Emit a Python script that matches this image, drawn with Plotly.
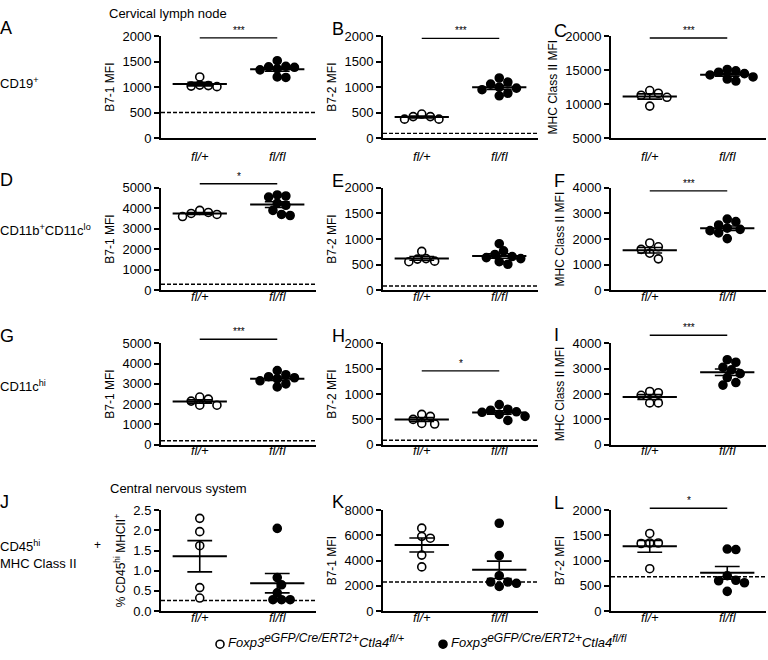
import numpy as np
import plotly.graph_objects as go

# ---------------- data ----------------
groups = ["fl/+", "fl/fl"]
panel_letters = ["A", "B", "C", "D", "E", "F", "G", "H", "I", "J", "K", "L"]

A_het = [1200, 1030, 1020, 1010, 1040]
A_hom = [1520, 1400, 1390, 1410, 1360, 1340, 1200, 1190]
B_het = [470, 420, 370, 370, 420]
B_hom = [1180, 1100, 1060, 1000, 980, 950, 880, 830]
C_het = [12000, 11600, 11300, 11000, 9700]
C_hom = [15100, 14900, 14700, 14500, 14300, 14000, 13700, 13400]
D_het = [3900, 3750, 3700, 3600, 3800]
D_hom = [4650, 4600, 4550, 4250, 4150, 3900, 3700, 3650]
E_het = [760, 620, 610, 570, 560]
E_hom = [910, 770, 700, 660, 640, 620, 560, 510]
F_het = [1850, 1700, 1600, 1450, 1230]
F_hom = [2780, 2680, 2550, 2430, 2380, 2330, 2240, 2020]
G_het = [2350, 2250, 2150, 1950, 1950]
G_hom = [3650, 3450, 3350, 3300, 3250, 3150, 3000, 2850]
H_het = [600, 560, 500, 420, 410]
H_hom = [790, 700, 680, 650, 640, 600, 560, 480]
I_het = [2100, 2050, 1950, 1650, 1650]
I_hom = [3350, 3250, 3050, 2950, 2800, 2650, 2450, 2350]
J_het = [2.30, 1.97, 1.62, 0.58, 0.32]
J_hom = [2.05, 0.83, 0.65, 0.45, 0.28, 0.28, 0.28]
K_het = [6580, 5930, 5780, 4440, 3500]
K_hom = [6970, 4400, 2800, 2300, 2300, 2200, 1950]
L_het = [1540, 1350, 1340, 1350, 840]
L_hom = [1230, 1220, 700, 610, 600, 560, 390]

het_values = [A_het, B_het, C_het, D_het, E_het, F_het, G_het, H_het, I_het, J_het, K_het, L_het]
hom_values = [A_hom, B_hom, C_hom, D_hom, E_hom, F_hom, G_hom, H_hom, I_hom, J_hom, K_hom, L_hom]

# isotype / background level (dashed line)
baseline = [500, 90, None, 300, 85, None, 200, 90, None, 0.26, 2300, 680]
# significance
sig_text = ["***", "***", "***", "*", None, "***", "***", "*", "***", None, None, "*"]
sig_level = [1970, 1960, 19750, 5200, None, 3880, 5190, 1456, 4310, None, None, 2040]

y_titles = ["B7-1 MFI", "B7-2 MFI", "MHC Class II MFI",
            "B7-1 MFI", "B7-2 MFI", "MHC Class II MFI",
            "B7-1 MFI", "B7-2 MFI", "MHC Class II MFI",
            "% CD45<sup>hi</sup> MHCII<sup>+</sup>", "B7-1 MFI", "B7-2 MFI"]
y_min = [0, 0, 5000, 0, 0, 0, 0, 0, 0, 0, 0, 0]
y_max = [2000, 2000, 20000, 5000, 2000, 4000, 5000, 2000, 4000, 2.5, 8000, 2000]
y_dtick = [500, 500, 5000, 1000, 500, 1000, 1000, 500, 1000, 0.5, 2000, 500]

row_labels = ["CD19<sup>+</sup>", "CD11b<sup>+</sup>CD11c<sup>lo</sup>", "CD11c<sup>hi</sup>",
              "CD45<sup>hi</sup><br>MHC Class II"]
section_titles = ["Cervical lymph node", "Central nervous system"]
legend_het = ("<i>Foxp3<sup><span style='font-size:12px'>eGFP/Cre/ERT2+</span></sup>"
              "Ctla4<sup><span style='font-size:11px'>fl/+</span></sup></i>")
legend_hom = ("<i>Foxp3<sup><span style='font-size:12px'>eGFP/Cre/ERT2+</span></sup>"
              "Ctla4<sup><span style='font-size:11px'>fl/fl</span></sup></i>")

# ---------------- layout helpers ----------------
W, H = 768, 660
FONT = "Liberation Sans, Arial, sans-serif"
col_px = [(161, 316), (383, 538), (611, 766)]
row_px = [(30, 134), (185, 290), (344, 448), (515, 618)]
row_label_standoff = [5, -7, -7, -7]


def px(x):
    return x / W


def py(y):
    return 1 - y / H


def swarm(vals, unit_px, x_unit_px, d=8.6):
    placed = []
    order = np.argsort(-np.asarray(vals, dtype=float), kind="stable")
    res = [0.0] * len(vals)
    cands = [0.0]
    for k in range(1, 30):
        cands += [k * d / 2, -k * d / 2]
    for i in order:
        yv = vals[i] * unit_px
        for c in cands:
            if all((c - a) ** 2 + (yv - b) ** 2 >= (d * 0.93) ** 2 for a, b in placed):
                break
        placed.append((c, yv))
        res[i] = c / x_unit_px
    return res


fig = go.Figure()
layout = dict(width=W, height=H, margin=dict(l=0, r=0, t=0, b=0),
              paper_bgcolor="white", plot_bgcolor="white", showlegend=False,
              font=dict(family=FONT, size=13, color="black"))
annotations = []
shapes = []

for p in range(12):
    r, c = divmod(p, 3)
    n = p + 1
    xa = "x" if n == 1 else f"x{n}"
    ya = "y" if n == 1 else f"y{n}"
    x0p, x1p = col_px[c]
    y0p, y1p = row_px[r]
    layout["xaxis" if n == 1 else f"xaxis{n}"] = dict(
        domain=[px(x0p), px(x1p)], range=[-0.5, 1.5], anchor=ya,
        tickvals=[0, 1], ticktext=[f"<i>{g}</i>" for g in groups],
        showline=True, linewidth=2, linecolor="black", ticks="",
        showgrid=False, zeroline=False, ticklabelstandoff=row_label_standoff[r],
        tickfont=dict(size=13, family=FONT), fixedrange=True)
    layout["yaxis" if n == 1 else f"yaxis{n}"] = dict(
        domain=[py(y1p), py(y0p)], range=[y_min[p], y_max[p]], anchor=xa,
        tick0=y_min[p], dtick=y_dtick[p],
        tickformat=".1f" if y_max[p] < 10 else "d",
        showline=True, linewidth=2, linecolor="black", ticks="outside",
        ticklen=5, tickwidth=1.5, tickcolor="black",
        showgrid=False, zeroline=False,
        tickfont=dict(size=13, family=FONT),
        title=dict(text=y_titles[p], font=dict(size=12, family=FONT), standoff=5),
        fixedrange=True)

    unit_px = (y1p - y0p) / (y_max[p] - y_min[p])
    x_unit = (x1p - x0p) / 2.0

    def to_paper_y(v):
        return py(y1p - (v - y_min[p]) * unit_px)

    # baseline
    if baseline[p] is not None:
        fig.add_trace(go.Scatter(x=[-0.5, 1.5], y=[baseline[p]] * 2, mode="lines",
                                 line=dict(color="black", width=1.4, dash="4px,2px"),
                                 xaxis=xa, yaxis=ya, cliponaxis=False, hoverinfo="skip"))

    for gi, vals in enumerate([het_values[p], hom_values[p]]):
        offs = swarm(vals, unit_px, x_unit)
        xs = [gi + o for o in offs]
        filled = gi == 1
        fig.add_trace(go.Scatter(
            x=xs, y=vals, mode="markers", xaxis=xa, yaxis=ya, cliponaxis=False,
            marker=dict(size=8, symbol="circle",
                        color="black" if filled else "white",
                        line=dict(color="black", width=1.6))))
        arr = np.asarray(vals, dtype=float)
        m = arr.mean()
        sem = arr.std(ddof=1) / np.sqrt(len(arr))
        fig.add_trace(go.Scatter(x=[gi - 0.35, gi + 0.35], y=[m, m], mode="lines",
                                 line=dict(color="black", width=2), xaxis=xa, yaxis=ya,
                                 cliponaxis=False, hoverinfo="skip"))
        fig.add_trace(go.Scatter(
            x=[gi - 0.16, gi + 0.16, None, gi - 0.16, gi + 0.16, None, gi, gi],
            y=[m + sem, m + sem, None, m - sem, m - sem, None, m - sem, m + sem],
            mode="lines", line=dict(color="black", width=1.6), xaxis=xa, yaxis=ya,
            cliponaxis=False, hoverinfo="skip"))

    # significance bar (may sit above the axis range -> paper y)
    if sig_text[p] is not None:
        yp = to_paper_y(sig_level[p])
        shapes.append(dict(type="line", xref=xa, yref="paper", x0=0, x1=1, y0=yp, y1=yp,
                           line=dict(color="black", width=1.4)))
        annotations.append(dict(x=0.5, y=yp, xref=xa, yref="paper", text=sig_text[p],
                                showarrow=False, yanchor="bottom", yshift=0,
                                font=dict(size=10, family=FONT, color="black")))

# panel letters
letter_pos = [(-2, 22), (330, 23), (552, 25),
              (-2, 177), (330, 178), (552, 178),
              (-2, 337), (330, 337), (552, 336),
              (-2, 507), (330, 507), (552, 508)]
for L, (lx, ly) in zip(panel_letters, letter_pos):
    annotations.append(dict(x=px(lx), y=py(ly), xref="paper", yref="paper", text=L,
                            showarrow=False, xanchor="left", yanchor="middle",
                            font=dict(size=18, family=FONT)))

# row labels
row_label_pos = [(-2, 78), (-2, 228), (-2, 388), (-2, 560)]
for t, (lx, ly) in zip(row_labels, row_label_pos):
    annotations.append(dict(x=px(lx), y=py(ly), xref="paper", yref="paper", text=t,
                            showarrow=False, xanchor="left", yanchor="middle", align="left",
                            font=dict(size=13, family=FONT)))
annotations.append(dict(x=px(97), y=py(551), xref="paper", yref="paper", text="+",
                        showarrow=False, xanchor="center", yanchor="middle",
                        font=dict(size=12, family=FONT)))

# section titles
for t, (lx, ly) in zip(section_titles, [(107, 7), (108, 493)]):
    annotations.append(dict(x=px(lx), y=py(ly), xref="paper", yref="paper", text=t,
                            showarrow=False, xanchor="left", yanchor="middle",
                            font=dict(size=13, family=FONT)))

# bottom legend
for (cx, txt, fill) in [(220, legend_het, "white"), (443, legend_hom, "black")]:
    shapes.append(dict(type="circle", xref="paper", yref="paper",
                       xsizemode="pixel", ysizemode="pixel",
                       xanchor=px(cx), yanchor=py(652),
                       x0=-4, x1=4, y0=-4, y1=4,
                       line=dict(color="black", width=1.6), fillcolor=fill))
    annotations.append(dict(x=px(cx + 6), y=0, xref="paper", yref="paper", text=txt,
                            showarrow=False, xanchor="left", yanchor="bottom",
                            font=dict(size=13, family=FONT)))

layout["annotations"] = annotations
layout["shapes"] = shapes
fig.update_layout(**layout)
fig.write_html("out.html", config={"displayModeBar": False},
               post_script="document.body.style.margin='0';document.body.style.padding='0';")
